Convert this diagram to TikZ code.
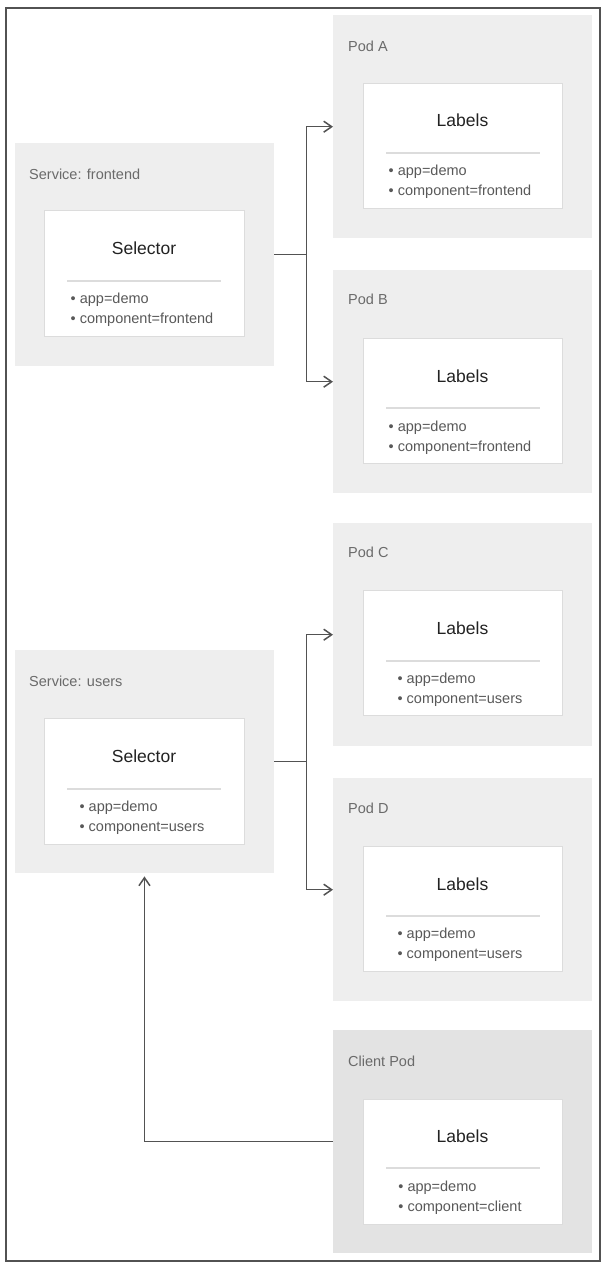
\documentclass[tikz,border=0pt]{standalone}
\usepackage{fontspec}
\setmainfont{Liberation Sans}
\usepackage{xcolor}
\usetikzlibrary{arrows.meta}

\definecolor{boxgray}{HTML}{EEEEEE}
\definecolor{clientgray}{HTML}{E3E3E3}
\definecolor{edgegray}{HTML}{DCDCDC}
\definecolor{titlegray}{HTML}{6A6A6A}
\definecolor{itemgray}{HTML}{595959}
\definecolor{headblack}{HTML}{222222}
\definecolor{linegray}{HTML}{525252}

\begin{document}
\begin{tikzpicture}[x=1pt,y=-1pt]

	\tikzstyle{podbox}=[rectangle,fill=boxgray,anchor=north west,minimum width=259pt,minimum height=223pt,inner sep=0pt]
	\tikzstyle{labelbox}=[draw=edgegray,line width=1pt,fill=white,rectangle,anchor=north west,minimum width=199pt,minimum height=125pt,inner sep=0pt]
	\tikzstyle{boxtitle}=[anchor=west,text=titlegray,font=\fontsize{14.5}{17}\selectfont,inner sep=0pt]
	\tikzstyle{heading}=[text=headblack,font=\fontsize{17.5}{20}\selectfont,inner sep=0pt]
	\tikzstyle{items}=[anchor=north,align=left,text=itemgray,font=\fontsize{14.5}{20}\selectfont,inner sep=0pt]
	\tikzstyle{divider}=[draw=edgegray,line width=1.2pt]
	\tikzstyle{link}=[draw=linegray,line width=1.5pt]
	\tikzstyle{tip}=[-{Straight Barb[length=8pt,width=11pt]}]

	\useasboundingbox (0,0) rectangle (606,1272);
	\draw[linegray,line width=1.5pt] (6,8) rectangle (600,1261);

	% services
	\node[podbox,minimum width=259.5pt] (svcF) at (14.5,143) {};
	\node[boxtitle] (svcFtitle) at (29,174) {Service: frontend};
	\node[labelbox,minimum width=200pt,minimum height=126pt] (svcFsel) at (44,210) {};
	\node[heading] (svcFhead) at (144,248) {Selector};
	\draw[divider] (67,281) -- (221,281);
	\node[items] (svcFitems) at (142,293) {\textbullet\ app=demo\\\textbullet\ component=frontend};

	\node[podbox,minimum width=259.5pt] (svcU) at (14.5,650) {};
	\node[boxtitle] (svcUtitle) at (29,681) {Service: users};
	\node[labelbox,minimum width=200pt,minimum height=126pt] (svcUsel) at (44,718) {};
	\node[heading] (svcUhead) at (144,756) {Selector};
	\draw[divider] (67,789) -- (221,789);
	\node[items] (svcUitems) at (142,801) {\textbullet\ app=demo\\\textbullet\ component=users};

	% pods
	\node[podbox] (podA) at (333,15) {};
	\node[boxtitle] (podAtitle) at (348,46) {Pod A};
	\node[labelbox] (podAlab) at (363,83) {};
	\node[heading] (podAhead) at (462.5,120) {Labels};
	\draw[divider] (386,153) -- (540,153);
	\node[items] (podAitems) at (460,165) {\textbullet\ app=demo\\\textbullet\ component=frontend};

	\node[podbox] (podB) at (333,270) {};
	\node[boxtitle] (podBtitle) at (348,299) {Pod B};
	\node[labelbox] (podBlab) at (363,338) {};
	\node[heading] (podBhead) at (462.5,376) {Labels};
	\draw[divider] (386,408) -- (540,408);
	\node[items] (podBitems) at (460,421) {\textbullet\ app=demo\\\textbullet\ component=frontend};

	\node[podbox] (podC) at (333,523) {};
	\node[boxtitle] (podCtitle) at (348,552) {Pod C};
	\node[labelbox] (podClab) at (363,590) {};
	\node[heading] (podChead) at (462.5,628) {Labels};
	\draw[divider] (386,661) -- (540,661);
	\node[items] (podCitems) at (460,673) {\textbullet\ app=demo\\\textbullet\ component=users};

	\node[podbox] (podD) at (333,778) {};
	\node[boxtitle] (podDtitle) at (348,808) {Pod D};
	\node[labelbox] (podDlab) at (363,846) {};
	\node[heading] (podDhead) at (462.5,884) {Labels};
	\draw[divider] (386,916) -- (540,916);
	\node[items] (podDitems) at (460,928) {\textbullet\ app=demo\\\textbullet\ component=users};

	\node[podbox,fill=clientgray] (client) at (333,1030) {};
	\node[boxtitle] (clienttitle) at (348,1061) {Client Pod};
	\node[labelbox] (clientlab) at (363,1099) {};
	\node[heading] (clienthead) at (462.5,1136) {Labels};
	\draw[divider] (386,1168) -- (540,1168);
	\node[items] (clientitems) at (460,1181) {\textbullet\ app=demo\\\textbullet\ component=client};

	% connectors
	\coordinate (fjoin) at ([xshift=32pt]svcF.east);
	\coordinate (ujoin) at ([xshift=32pt]svcU.east);

	\draw[link] (svcF.east) -- (fjoin);
	\draw[link,tip] (fjoin) |- (podA.west);
	\draw[link,tip] (fjoin) |- (podB.west);

	\draw[link] (svcU.east) -- (ujoin);
	\draw[link,tip] (ujoin) |- (podC.west);
	\draw[link,tip] (ujoin) |- (podD.west);

	\draw[link,tip,shorten >=3pt] (client.west) -| (svcU.south);

\end{tikzpicture}
\end{document}
